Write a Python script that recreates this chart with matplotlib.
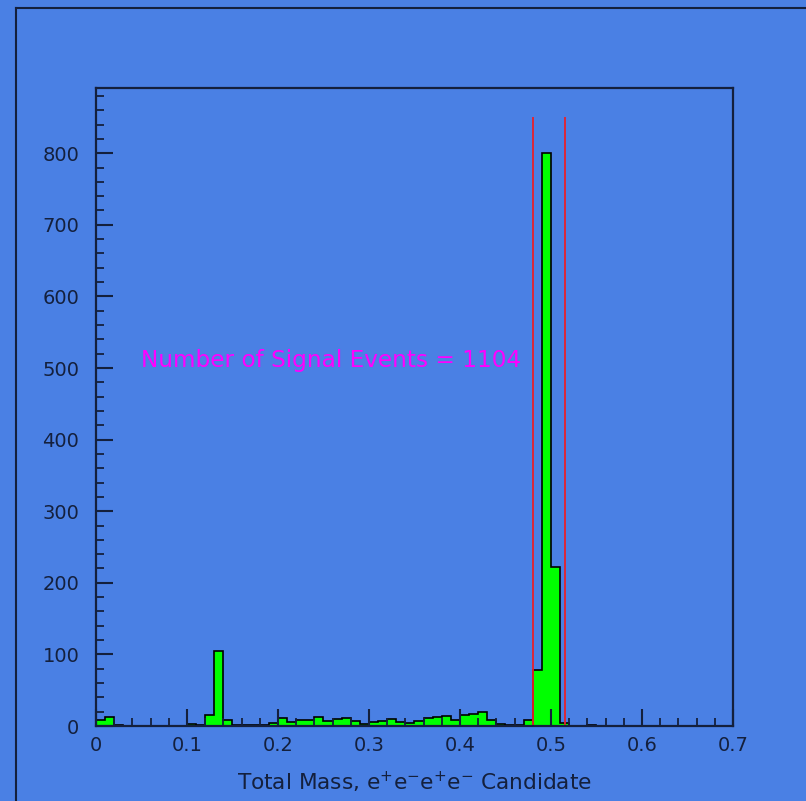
import numpy as np
import matplotlib.pyplot as plt
from matplotlib.ticker import MultipleLocator
from matplotlib.lines import Line2D

# 70 bins of width 0.01 between 0 and 0.7
edges = np.round(np.arange(0, 0.71, 0.01), 2)
counts = [9, 13, 1, 0, 0, 0, 0, 0, 0, 0,
          3, 1, 15, 105, 8, 2, 1, 2, 1, 4,
          11, 6, 9, 9, 12, 7, 10, 11, 7, 3,
          6, 7, 10, 6, 4, 7, 11, 13, 14, 8,
          15, 17, 20, 8, 3, 1, 1, 8, 78, 800,
          222, 4, 0, 0, 1, 0, 0, 0, 0, 0,
          0, 0, 0, 0, 0, 0, 0, 0, 0, 0]
cut_lo, cut_hi = 0.48, 0.515
n_signal = 1104

bg = '#4a80e4'
ink = '#14203d'
fig = plt.figure(figsize=(8.06, 8.01), dpi=100, facecolor=bg)
ax = fig.add_axes([0.1191, 0.0936, 0.7903, 0.7965], facecolor=bg)

ax.stairs(counts, edges, fill=True, color='#00ff00')
ax.stairs(counts, edges, color='black', lw=1.2)
ax.vlines([cut_lo, cut_hi], 0, 850, color='#e8202a', lw=1.3)
ax.text(0.05, 511, f'Number of Signal Events = {n_signal}', color='#ff00ff',
        fontsize=16.7, va='center')

ax.set_xlim(0, 0.7)
ax.set_ylim(0, 891)
ax.xaxis.set_major_locator(MultipleLocator(0.1))
ax.xaxis.set_minor_locator(MultipleLocator(0.02))
ax.yaxis.set_major_locator(MultipleLocator(100))
ax.yaxis.set_minor_locator(MultipleLocator(20))
ax.xaxis.set_major_formatter(plt.FuncFormatter(lambda v, p: f'{v:g}'))
ax.tick_params(which='both', direction='in', colors=ink, labelsize=14,
               top=False, right=False)
ax.tick_params(which='major', length=12, width=1.5)
ax.tick_params(which='minor', length=6, width=1.3)
ax.tick_params(axis='y', pad=12)
ax.tick_params(axis='x', pad=7)
for s in ax.spines.values():
    s.set_linewidth(1.6)
    s.set_color(ink)

ax.set_xlabel(r'Total Mass, e$^{+}$e$^{-}$e$^{+}$e$^{-}$ Candidate',
              fontsize=15.6, color=ink, labelpad=11)

# pad border
fig.add_artist(Line2D([16/806, 16/806], [0, 1 - 8/801], color=ink, lw=1.5))
fig.add_artist(Line2D([16/806, 1], [1 - 8/801, 1 - 8/801], color=ink, lw=1.5))

fig.savefig('out.png', dpi=100, facecolor=bg)
